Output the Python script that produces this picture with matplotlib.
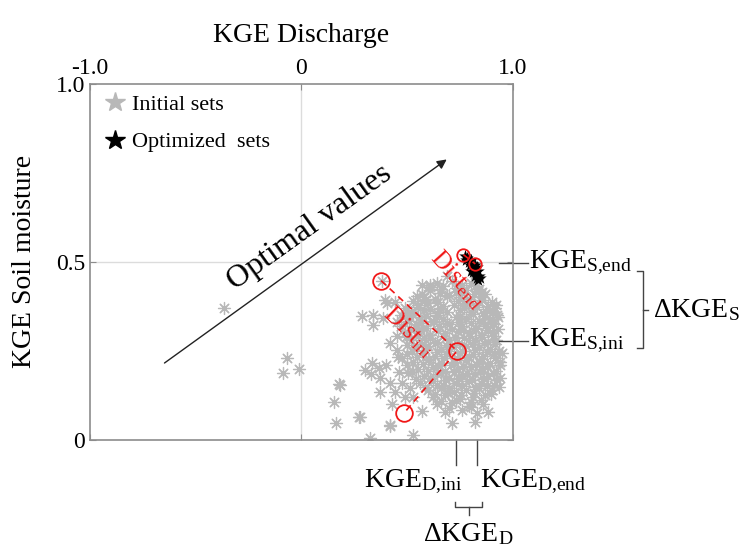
import matplotlib
matplotlib.use("Agg")
import matplotlib.pyplot as plt
from matplotlib.lines import Line2D

plt.rcParams['font.family'] = ['Liberation Serif', 'DejaVu Serif']
plt.rcParams['mathtext.fontset'] = 'custom'
plt.rcParams['mathtext.rm'] = 'Liberation Serif'
plt.rcParams['mathtext.it'] = 'Liberation Serif:italic'
plt.rcParams['mathtext.bf'] = 'Liberation Serif:bold'

# ---- data -------------------------------------------------------------
# initial parameter sets: (KGE discharge, KGE soil moisture)
ini_kge_d = [
    -0.363, -0.068, -0.086, -0.009, 0.176, 0.157, 0.164, 0.275, 0.325, 0.420,
    0.527, 0.569, 0.714, 0.821, 0.884, 0.286, 0.341, 0.341, 0.396, 0.380,
    0.608, 0.687, 0.836, 0.302, 0.333, 0.365, 0.373, 0.417, 0.373, 0.443,
    0.475, 0.514, 0.506, 0.459, 0.278, 0.420, 0.184, 0.530, 0.388, 0.404,
    0.443, 0.420, 0.451, 0.498, 0.546, 0.569, 0.506, 0.453,
    0.330, 0.400, 0.460, 0.490, 0.430,
    # dense core
    0.64, 0.71, 0.76, 0.80, 0.61, 0.66, 0.73, 0.78, 0.84, 0.87,
    0.58, 0.63, 0.69, 0.75, 0.79, 0.85, 0.55, 0.60, 0.67, 0.72,
    0.77, 0.82, 0.88, 0.92, 0.52, 0.58, 0.64, 0.69, 0.75, 0.80,
    0.86, 0.90, 0.50, 0.56, 0.62, 0.67, 0.73, 0.78, 0.84, 0.89,
    0.93, 0.47, 0.54, 0.59, 0.65, 0.70, 0.76, 0.82, 0.87, 0.91,
    0.49, 0.55, 0.61, 0.68, 0.74, 0.79, 0.85, 0.90, 0.52, 0.58,
    0.64, 0.70, 0.77, 0.82, 0.88, 0.92, 0.54, 0.60, 0.66, 0.72,
    0.78, 0.84, 0.89, 0.50, 0.57, 0.63, 0.69, 0.75, 0.81, 0.86,
    0.91, 0.95, 0.53, 0.60, 0.66, 0.72, 0.78, 0.84, 0.89, 0.94,
    0.55, 0.62, 0.68, 0.74, 0.80, 0.86, 0.92, 0.58, 0.64, 0.70,
    0.76, 0.82, 0.88, 0.94, 0.56, 0.62, 0.67, 0.73, 0.79, 0.85,
    0.91, 0.60, 0.66, 0.72, 0.78, 0.84, 0.90, 0.62, 0.68, 0.75,
    0.81, 0.87, 0.64, 0.71, 0.79, 0.86, 0.68, 0.76, 0.83,
    0.61, 0.67, 0.73, 0.82,
    0.57, 0.655, 0.70, 0.76, 0.815, 0.855,
    0.53, 0.585, 0.645, 0.74, 0.79, 0.855, 0.90,
    0.49, 0.55, 0.61, 0.655, 0.77, 0.83, 0.875, 0.915,
    0.47, 0.53, 0.59, 0.64, 0.75, 0.81, 0.865, 0.925,
    0.45, 0.51, 0.565, 0.625, 0.69, 0.745, 0.80, 0.86, 0.905,
    0.52, 0.575, 0.645, 0.71, 0.765, 0.825, 0.88, 0.93,
    0.495, 0.55, 0.61, 0.67, 0.725, 0.795, 0.855, 0.905,
    0.57, 0.63, 0.685, 0.745, 0.805, 0.865, 0.915,
    0.525, 0.585, 0.64, 0.70, 0.76, 0.82, 0.875, 0.935,
    0.475, 0.545, 0.605, 0.675, 0.735, 0.79, 0.855, 0.915,
    0.50, 0.575, 0.645, 0.705, 0.765, 0.825, 0.875, 0.94,
    0.525, 0.60, 0.66, 0.72, 0.785, 0.845, 0.905,
    0.54, 0.61, 0.685, 0.745, 0.805, 0.865, 0.925,
    0.585, 0.64, 0.70, 0.76, 0.82, 0.875, 0.935,
    0.63, 0.695, 0.755, 0.815, 0.895,
    0.66, 0.73, 0.80, 0.85,
    0.70, 0.80,
]
ini_kge_s = [
    0.370, 0.229, 0.189, 0.199, 0.157, 0.108, 0.049, 0.064, 0.005, 0.039,
    0.014, 0.082, 0.047, 0.051, 0.080, 0.348, 0.351, 0.323, 0.393, 0.447,
    0.435, 0.459, 0.417, 0.197, 0.215, 0.201, 0.173, 0.159, 0.136, 0.136,
    0.159, 0.145, 0.187, 0.234, 0.065, 0.042, 0.154, 0.120, 0.342, 0.384,
    0.388, 0.272, 0.253, 0.267, 0.403, 0.435, 0.356, 0.292,
    0.185, 0.210, 0.190, 0.120, 0.100,
    # dense core
    0.44, 0.445, 0.435, 0.44, 0.42, 0.425, 0.415, 0.42, 0.425, 0.41,
    0.40, 0.395, 0.405, 0.40, 0.395, 0.40, 0.38, 0.385, 0.375, 0.38,
    0.385, 0.38, 0.375, 0.38, 0.36, 0.365, 0.355, 0.36, 0.365, 0.36,
    0.355, 0.36, 0.34, 0.345, 0.335, 0.34, 0.345, 0.34, 0.335, 0.34,
    0.345, 0.32, 0.325, 0.315, 0.32, 0.325, 0.32, 0.315, 0.32, 0.325,
    0.30, 0.305, 0.295, 0.30, 0.305, 0.30, 0.295, 0.30, 0.28, 0.285,
    0.275, 0.28, 0.285, 0.28, 0.275, 0.28, 0.26, 0.265, 0.255, 0.26,
    0.265, 0.26, 0.255, 0.24, 0.245, 0.235, 0.24, 0.245, 0.24, 0.235,
    0.24, 0.245, 0.22, 0.225, 0.215, 0.22, 0.225, 0.22, 0.215, 0.22,
    0.20, 0.205, 0.195, 0.20, 0.205, 0.20, 0.195, 0.18, 0.185, 0.175,
    0.18, 0.185, 0.18, 0.175, 0.16, 0.165, 0.155, 0.16, 0.165, 0.16,
    0.155, 0.14, 0.145, 0.135, 0.14, 0.145, 0.14, 0.12, 0.125, 0.115,
    0.12, 0.125, 0.10, 0.105, 0.095, 0.10, 0.08, 0.085, 0.075,
    0.43, 0.432, 0.427, 0.431,
    0.41, 0.413, 0.407, 0.411, 0.409, 0.414,
    0.39, 0.393, 0.387, 0.391, 0.389, 0.392, 0.388,
    0.37, 0.373, 0.367, 0.371, 0.369, 0.372, 0.368, 0.371,
    0.35, 0.352, 0.348, 0.351, 0.349, 0.353, 0.347, 0.350,
    0.33, 0.333, 0.327, 0.331, 0.329, 0.332, 0.328, 0.331, 0.329,
    0.31, 0.313, 0.307, 0.311, 0.309, 0.312, 0.308, 0.311,
    0.29, 0.293, 0.287, 0.291, 0.289, 0.292, 0.288, 0.291,
    0.27, 0.273, 0.267, 0.271, 0.269, 0.272, 0.268,
    0.25, 0.253, 0.247, 0.251, 0.249, 0.252, 0.248, 0.251,
    0.23, 0.233, 0.227, 0.231, 0.229, 0.232, 0.228, 0.231,
    0.21, 0.213, 0.207, 0.211, 0.209, 0.212, 0.208, 0.211,
    0.19, 0.193, 0.187, 0.191, 0.189, 0.192, 0.188,
    0.17, 0.173, 0.167, 0.171, 0.169, 0.172, 0.168,
    0.15, 0.153, 0.147, 0.151, 0.149, 0.152, 0.148,
    0.13, 0.133, 0.127, 0.131, 0.129,
    0.11, 0.113, 0.107, 0.111,
    0.09, 0.093,
]

# optimized parameter sets
opt_kge_d = [0.775, 0.785, 0.790, 0.800, 0.810, 0.795, 0.805, 0.815, 0.820, 0.830,
             0.810, 0.825, 0.835, 0.820, 0.830, 0.840, 0.835, 0.845, 0.780, 0.800]
opt_kge_s = [0.515, 0.510, 0.500, 0.505, 0.495, 0.490, 0.485, 0.480, 0.490, 0.485,
             0.470, 0.470, 0.475, 0.460, 0.455, 0.460, 0.450, 0.455, 0.505, 0.475]

# distance markers (red circles) and their links
dist_ini_d = [0.377, 0.736, 0.486]
dist_ini_s = [0.447, 0.250, 0.076]
dist_end_d = [0.766, 0.822]
dist_end_s = [0.520, 0.494]

# reference values marked outside the axes
kge_s_end, kge_s_ini = 0.497, 0.279
kge_d_ini, kge_d_end = 0.731, 0.829

x_ticks = [-1.0, 0.0, 1.0]
x_tick_labels = ['-1.0', '0', '1.0']
y_ticks = [0.0, 0.5, 1.0]
y_tick_labels = ['0', '0.5', '1.0']

# ---- figure -----------------------------------------------------------
fig = plt.figure(figsize=(7.48, 5.53), dpi=100)
ax = fig.add_axes([0.1197, 0.2043, 0.5661, 0.6447])
ax.set_xlim(-1, 1)
ax.set_ylim(0, 1)

spine_col = '#8c8c8c'
for sp in ax.spines.values():
    sp.set_color(spine_col)
    sp.set_linewidth(1.2)

ax.axvline(0, color='#dcdcdc', lw=1.0, zorder=0)
ax.axhline(0.5, color='#dcdcdc', lw=1.0, zorder=0)

ax.xaxis.tick_top()
ax.xaxis.set_label_position('top')
ax.set_xticks(x_ticks)
ax.set_xticklabels(x_tick_labels)
ax.set_yticks(y_ticks)
ax.set_yticklabels(y_tick_labels)
ax.tick_params(axis='both', direction='in', length=4, color=spine_col,
               labelsize=17, pad=3, top=True, bottom=True, left=True, right=True)
ax.tick_params(axis='x', labeltop=True, labelbottom=False)

ax.set_xlabel('KGE Discharge', fontsize=20, labelpad=12)
ax.set_ylabel('KGE Soil moisture', fontsize=20, labelpad=14)

# scatter of parameter sets
ax.scatter(ini_kge_d, ini_kge_s, marker=(8, 2, 0), s=75, linewidths=0.9,
           color='#b8b8b8', zorder=2)
ax.scatter(opt_kge_d, opt_kge_s, marker='*', s=90, color='black',
           linewidths=0, zorder=3)

# distance links
red = '#f01818'
ax.plot(dist_ini_d, dist_ini_s, color=red, ls=(0, (4, 3)), lw=1.2, zorder=4)
ax.plot(dist_end_d, dist_end_s, color=red, ls=(0, (4, 3)), lw=1.2, zorder=4)
ax.plot(dist_ini_d, dist_ini_s, ls='none', marker='o', ms=12, mfc='none',
        mec=red, mew=1.3, zorder=5)
ax.plot(dist_end_d, dist_end_s, ls='none', marker='o', ms=9, mfc='none',
        mec=red, mew=1.3, zorder=5)
ax.text(0.51, 0.303, r'Dist$_{\mathrm{ini}}$', color=red, fontsize=18,
        rotation=-44, ha='center', va='center', rotation_mode='anchor', zorder=6)
ax.text(0.738, 0.450, r'Dist$_{\mathrm{end}}$', color=red, fontsize=18,
        rotation=-48, ha='center', va='center', rotation_mode='anchor', zorder=6)

# direction of optimal values
ax.annotate('', xy=(0.687, 0.787), xytext=(-0.646, 0.216),
            arrowprops=dict(arrowstyle='-|>', lw=1.0, color='#222222',
                            mutation_scale=14, shrinkA=0, shrinkB=0))
ax.text(0.04, 0.595, 'Optimal values', fontsize=23, rotation=35.6,
        ha='center', va='center', rotation_mode='anchor')

# legend
handles = [
    Line2D([], [], ls='none', marker='*', ms=15, color='#b8b8b8', label='Initial sets'),
    Line2D([], [], ls='none', marker='*', ms=15, color='black', label='Optimized  sets'),
]
ax.legend(handles=handles, loc='upper left', frameon=False, fontsize=16,
          handletextpad=0.1, labelspacing=0.75, borderaxespad=0.2,
          handlelength=1.3, borderpad=0.3)

# reference values on the right side (soil moisture)
lc = '#444444'
for yv in (kge_s_end, kge_s_ini):
    ax.plot([0.934, 1.071], [yv, yv], color=lc, lw=1.0, clip_on=False)
ax.text(1.075, kge_s_end, r'KGE$_{\mathrm{S{,}end}}$', fontsize=20,
        ha='left', va='center')
ax.text(1.075, kge_s_ini, r'KGE$_{\mathrm{S{,}ini}}$', fontsize=20,
        ha='left', va='center')
bx = 1.613
ax.plot([bx - 0.025, bx, bx, bx - 0.025], [0.475, 0.475, 0.258, 0.258],
        color=lc, lw=1.0, clip_on=False)
ax.plot([bx, bx + 0.025], [0.365, 0.365], color=lc, lw=1.0, clip_on=False)
ax.text(1.66, 0.365, r'$\Delta$KGE$_{\mathrm{S}}$', fontsize=20,
        ha='left', va='center')

# reference values below the axes (discharge)
for xv in (kge_d_ini, kge_d_end):
    ax.plot([xv, xv], [0.0, -0.07], color=lc, lw=1.0, clip_on=False)
ax.text(0.528, -0.118, r'KGE$_{\mathrm{D{,}ini}}$', fontsize=20,
        ha='center', va='center')
ax.text(1.094, -0.118, r'KGE$_{\mathrm{D{,}end}}$', fontsize=20,
        ha='center', va='center')
ax.plot([0.726, 0.726, 0.854, 0.854], [-0.174, -0.188, -0.188, -0.174],
        color=lc, lw=1.0, clip_on=False)
ax.plot([0.79, 0.79], [-0.188, -0.21], color=lc, lw=1.0, clip_on=False)
ax.text(0.79, -0.228, r'$\Delta$KGE$_{\mathrm{D}}$', fontsize=20,
        ha='center', va='top')

fig.savefig('out.png', dpi=100)
